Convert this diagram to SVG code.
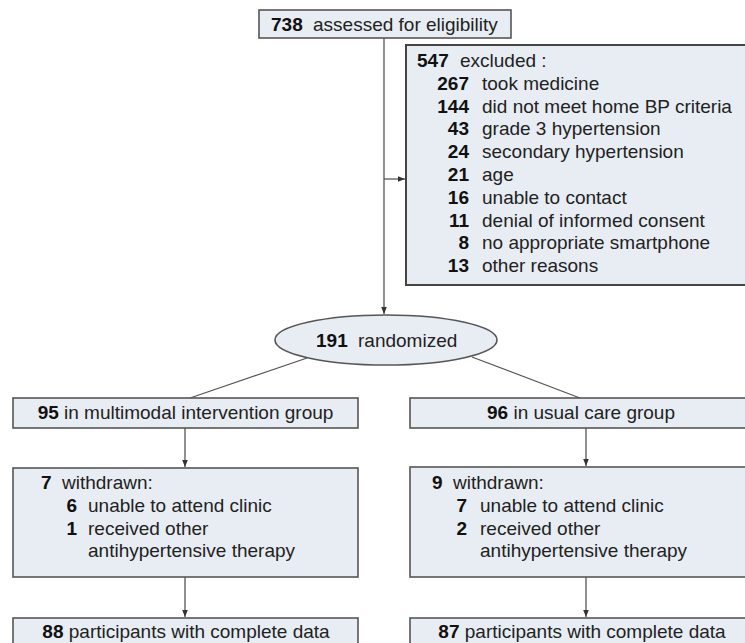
<svg xmlns="http://www.w3.org/2000/svg" width="745" height="643" viewBox="0 0 745 643">
<defs>
<style>
.box{fill:#e7edf3;stroke:#555;stroke-width:1.6}
.t{font-family:"Liberation Sans",Arial,sans-serif;font-size:19px;fill:#222}
.b{font-weight:bold;fill:#111}
.c{stroke:#555;stroke-width:1.3;fill:none}
</style>
<marker id="ah" viewBox="0 0 10 10" refX="10" refY="5" markerWidth="7" markerHeight="7" markerUnits="userSpaceOnUse" orient="auto">
<path d="M0,1 L10,5 L0,9 z" fill="#333"/>
</marker>
</defs>
<rect width="745" height="643" fill="#fff"/>
<g id="connectors">
<path class="c" d="M384,38 V314" marker-end="url(#ah)"/>
<path class="c" d="M384,179 H405" marker-end="url(#ah)"/>
<path class="c" d="M307,358 L190,398"/>
<path class="c" d="M472,357 L580,398"/>
<path class="c" d="M185,428 V467" marker-end="url(#ah)"/>
<path class="c" d="M185,577 V617" marker-end="url(#ah)"/>
<path class="c" d="M586,428 V466" marker-end="url(#ah)"/>
<path class="c" d="M586,577 V617" marker-end="url(#ah)"/>
</g>
<g id="assessed">
<rect class="box" x="259" y="10" width="252" height="28"/>
<text class="t" x="271" y="31"><tspan class="b">738</tspan><tspan x="313">assessed for eligibility</tspan></text>
</g>
<g id="excluded">
<rect class="box" x="406" y="45" width="345" height="240" style="stroke-width:2;stroke:#444"/>
<text class="t" x="417" y="67"><tspan class="b">547</tspan><tspan x="460">excluded :</tspan></text>
<g class="t">
<text x="469" y="89.8" text-anchor="end" class="t b">267</text><text x="482" y="89.8" class="t">took medicine</text>
<text x="469" y="112.6" text-anchor="end" class="t b">144</text><text x="482" y="112.6" class="t">did not meet home BP criteria</text>
<text x="469" y="135.4" text-anchor="end" class="t b">43</text><text x="482" y="135.4" class="t">grade 3 hypertension</text>
<text x="469" y="158.2" text-anchor="end" class="t b">24</text><text x="482" y="158.2" class="t">secondary hypertension</text>
<text x="469" y="181" text-anchor="end" class="t b">21</text><text x="482" y="181" class="t">age</text>
<text x="469" y="203.8" text-anchor="end" class="t b">16</text><text x="482" y="203.8" class="t">unable to contact</text>
<text x="469" y="226.6" text-anchor="end" class="t b">11</text><text x="482" y="226.6" class="t">denial of informed consent</text>
<text x="469" y="249.4" text-anchor="end" class="t b">8</text><text x="482" y="249.4" class="t">no appropriate smartphone</text>
<text x="469" y="272.2" text-anchor="end" class="t b">13</text><text x="482" y="272.2" class="t">other reasons</text>
</g>
</g>
<g id="randomized">
<ellipse class="box" cx="386" cy="340" rx="111" ry="25"/>
<text class="t" x="316" y="347"><tspan class="b">191</tspan><tspan x="358">randomized</tspan></text>
</g>
<g id="intervention">
<rect class="box" x="13" y="398" width="345" height="30"/>
<text class="t" x="185.5" y="419" text-anchor="middle"><tspan class="b">95</tspan> in multimodal intervention group</text>
</g>
<g id="usual">
<rect class="box" x="410" y="398" width="345" height="30"/>
<text class="t" x="581" y="419" text-anchor="middle"><tspan class="b">96</tspan> in usual care group</text>
</g>
<g id="withdrawn-left">
<rect class="box" x="13" y="468" width="345" height="109"/>
<text class="t" x="41" y="489"><tspan class="b">7</tspan><tspan x="62">withdrawn:</tspan></text>
<text class="t b" x="77" y="512" text-anchor="end">6</text><text class="t" x="88" y="512">unable to attend clinic</text>
<text class="t b" x="77" y="535" text-anchor="end">1</text><text class="t" x="88" y="535">received other</text>
<text class="t" x="88" y="557">antihypertensive therapy</text>
</g>
<g id="withdrawn-right">
<rect class="box" x="410" y="467" width="345" height="110"/>
<text class="t" x="432" y="489"><tspan class="b">9</tspan><tspan x="453">withdrawn:</tspan></text>
<text class="t b" x="467" y="512" text-anchor="end">7</text><text class="t" x="480" y="512">unable to attend clinic</text>
<text class="t b" x="467" y="535" text-anchor="end">2</text><text class="t" x="480" y="535">received other</text>
<text class="t" x="480" y="557">antihypertensive therapy</text>
</g>
<g id="complete-left">
<rect class="box" x="13" y="618" width="345" height="40"/>
<text class="t" x="186" y="638" text-anchor="middle"><tspan class="b">88</tspan> participants with complete data</text>
</g>
<g id="complete-right">
<rect class="box" x="410" y="618" width="345" height="40"/>
<text class="t" x="582" y="638" text-anchor="middle"><tspan class="b">87</tspan> participants with complete data</text>
</g>
</svg>
